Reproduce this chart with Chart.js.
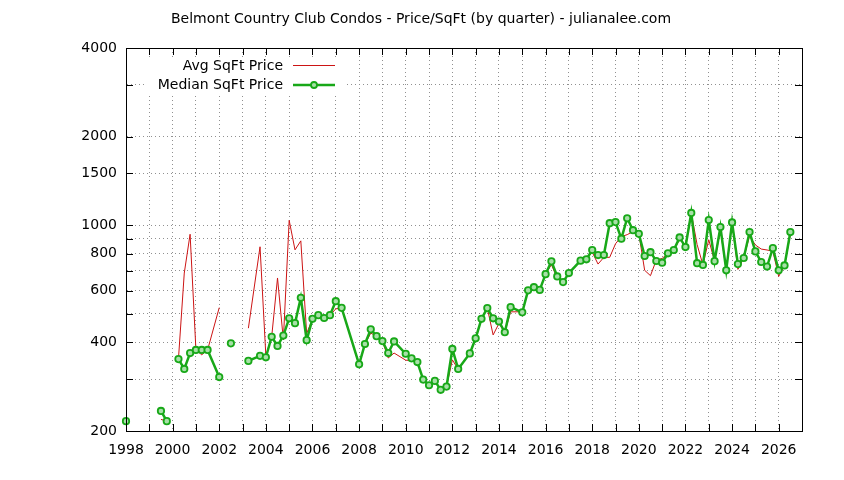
<!DOCTYPE html>
<html>
<head>
<meta charset="utf-8">
<title>Belmont Country Club Condos - Price/SqFt</title>
<script src="https://cdn.jsdelivr.net/npm/chart.js@4.4.1/dist/chart.umd.min.js"></script>
<style>
  html, body { margin: 0; padding: 0; background: #fff; }
  #wrap { width: 844px; height: 480px; }
</style>
</head>
<body>
<div id="wrap"><canvas id="priceChart" width="844" height="480"></canvas></div>
<script>
// quarter (year + (q-1)/4); rows with null values break the lines
const quarters = [
  1998.00, 1998.25,
  1999.50, 1999.75, 2000.00,
  2000.25, 2000.50, 2000.75, 2001.00, 2001.25, 2001.50, 2002.00, 2002.25,
  2002.50, 2002.75,
  2003.25, 2003.75, 2004.00, 2004.25, 2004.50, 2004.75, 2005.00, 2005.25, 2005.50, 2005.75,
  2006.00, 2006.25, 2006.50, 2006.75, 2007.00, 2007.25,
  2008.00, 2008.25, 2008.50, 2008.75, 2009.00, 2009.25, 2009.50,
  2010.00, 2010.25, 2010.50, 2010.75, 2011.00, 2011.25, 2011.50, 2011.75,
  2012.00, 2012.25, 2012.75, 2013.00, 2013.25, 2013.50, 2013.75,
  2014.00, 2014.25, 2014.50, 2015.00, 2015.25, 2015.50, 2015.75,
  2016.00, 2016.25, 2016.50, 2016.75, 2017.00, 2017.50, 2017.75,
  2018.00, 2018.25, 2018.50, 2018.75, 2019.00, 2019.25, 2019.50, 2019.75,
  2020.00, 2020.25, 2020.50, 2020.75, 2021.00, 2021.25, 2021.50, 2021.75,
  2022.00, 2022.25, 2022.50, 2022.75, 2023.00, 2023.25, 2023.50, 2023.75,
  2024.00, 2024.25, 2024.50, 2024.75, 2025.00, 2025.25, 2025.50, 2025.75,
  2026.00, 2026.25, 2026.50
];

const avgPrice = [
  216, null,
  219, 216, null,
  351, 688, 932, 377, 363, 377, 525, null,
  397, null,
  447, 845, 360, 418, 662, 408, 1039, 825, 885, 429,
  480, 494, 483, 494, 520, 523,
  335, 394, 430, 420, 404, 354, 368,
  348, 347, 342, 299, 286, 296, 276, 283,
  349, 324, 367, 413, 481, 523, 424,
  464, 433, 508, 508, 601, 616, 603,
  682, 735, 660, 638, 688, 758, 766,
  810, 738, 778, 778, 865, 915, 929, 952,
  938, 703, 674, 762, 771, 803, 824, 893,
  857, 1101, 860, 733, 893, 755, 966, 702,
  1020, 708, 774, 919, 857, 830, 824, 816,
  670, 730, 930
];

const medianPrice = [
  216, null,
  234, 216, null,
  351, 325, 368, 377, 377, 377, 305, null,
  397, null,
  346, 360, 356, 418, 389, 422, 483, 465, 567, 407,
  481, 495, 484, 495, 552, 524,
  337, 395, 443, 420, 404, 368, 403,
  366, 353, 343, 299, 286, 296, 276, 283,
  380, 325, 367, 413, 481, 523, 483,
  471, 433, 527, 506, 601, 616, 603,
  682, 754, 670, 641, 688, 758, 766,
  824, 792, 792, 1016, 1025, 900, 1056, 962,
  935, 786, 810, 756, 746, 803, 824, 909,
  843, 1101, 743, 733, 1042, 755, 986, 703,
  1022, 738, 774, 948, 815, 750, 724, 836,
  703, 730, 948
];

const yearTicks = [];
for (let y = 1998; y <= 2027; y++) yearTicks.push(y);
const yTickValues = [200, 300, 400, 500, 600, 700, 800, 900, 1000, 1500, 2000, 3000, 4000];
const yTickLabels = [200, 400, 600, 800, 1000, 1500, 2000, 4000];

const titleText = "Belmont Country Club Condos - Price/SqFt (by quarter) - julianalee.com";
const avgLabel = "Avg SqFt Price";
const medianLabel = "Median SqFt Price";

const RED = "#cc1414";
const GREEN = "#18a818";
const FONT = "DejaVu Sans";

Chart.defaults.font.family = FONT;
Chart.defaults.font.size = 14;
Chart.defaults.color = "#000";

// gnuplot-ish frame: inward ticks on all four sides, title, opaque key
const framePlugin = {
  id: "frame",
  afterDraw(chart) {
    const ctx = chart.ctx;
    const a = chart.chartArea;
    const xs = chart.scales.x, ys = chart.scales.y;
    const tick = 7;

    ctx.save();
    ctx.strokeStyle = "#000";
    ctx.lineWidth = 1;
    ctx.beginPath();
    xs.ticks.forEach(t => {
      const px = Math.round(xs.getPixelForValue(t.value)) + 0.5;
      ctx.moveTo(px, a.bottom); ctx.lineTo(px, a.bottom - tick);
      ctx.moveTo(px, a.top); ctx.lineTo(px, a.top + tick);
    });
    ys.ticks.forEach(t => {
      const py = Math.round(ys.getPixelForValue(t.value)) + 0.5;
      ctx.moveTo(a.left, py); ctx.lineTo(a.left + tick, py);
      ctx.moveTo(a.right, py); ctx.lineTo(a.right - tick, py);
    });
    ctx.stroke();
    ctx.strokeRect(Math.round(a.left) + 0.5, Math.round(a.top) + 0.5,
                   Math.round(a.right - a.left), Math.round(a.bottom - a.top));

    // title
    ctx.font = "14px " + FONT;
    ctx.fillStyle = "#000";
    ctx.textAlign = "center";
    ctx.textBaseline = "middle";
    ctx.fillText(titleText, 421, 19);

    // key
    ctx.fillStyle = "#fff";
    ctx.fillRect(146, 57, 198, 38);
    ctx.fillStyle = "#000";
    ctx.font = "14px " + FONT;
    ctx.textAlign = "right";
    ctx.fillText(avgLabel, 283, 66);
    ctx.fillText(medianLabel, 283, 85);

    ctx.strokeStyle = RED;
    ctx.lineWidth = 1;
    ctx.beginPath();
    ctx.moveTo(293, 65.5); ctx.lineTo(335, 65.5);
    ctx.stroke();

    ctx.strokeStyle = GREEN;
    ctx.lineWidth = 2.5;
    ctx.beginPath();
    ctx.moveTo(293, 85); ctx.lineTo(335, 85);
    ctx.stroke();
    ctx.lineWidth = 1.8;
    ctx.fillStyle = "#a8e0a8";
    ctx.beginPath();
    ctx.arc(314, 85, 3, 0, Math.PI * 2);
    ctx.fill();
    ctx.stroke();
    ctx.restore();
  }
};

const ctx = document.getElementById("priceChart").getContext("2d");
const priceChart = new Chart(ctx, {
  type: "line",
  data: {
    datasets: [
      {
        label: medianLabel,
        data: quarters.map((q, i) => ({ x: q, y: medianPrice[i] })),
        borderColor: GREEN,
        borderWidth: 2.5,
        pointRadius: 3.2,
        pointBorderWidth: 1.8,
        pointBackgroundColor: "#a8e0a8",
        pointBorderColor: GREEN,
        tension: 0,
        spanGaps: false,
        clip: 8,
        order: 0
      },
      {
        label: avgLabel,
        data: quarters.map((q, i) => ({ x: q, y: avgPrice[i] })),
        borderColor: RED,
        borderWidth: 1,
        pointRadius: 0,
        tension: 0,
        spanGaps: false,
        order: 1
      }
    ]
  },
  options: {
    responsive: false,
    animation: false,
    devicePixelRatio: 1,
    layout: { padding: { top: 48, right: 42, left: 0, bottom: 0 } },
    plugins: {
      legend: { display: false },
      title: { display: false },
      tooltip: { enabled: false }
    },
    scales: {
      x: {
        type: "linear",
        min: 1998,
        max: 2027,
        afterBuildTicks: scale => { scale.ticks = yearTicks.map(v => ({ value: v })); },
        afterFit: scale => { scale.height = 49; },
        ticks: {
          autoSkip: false,
          maxRotation: 0,
          padding: 11,
          font: { size: 14 },
          callback: v => (v % 2 === 0 && v <= 2026) ? String(v) : ""
        },
        grid: { color: "#909090", lineWidth: 1, drawTicks: false },
        border: { display: true, color: "#000", dash: [1, 3] }
      },
      y: {
        type: "logarithmic",
        min: 200,
        max: 4000,
        afterBuildTicks: scale => { scale.ticks = yTickValues.map(v => ({ value: v })); },
        afterFit: scale => { scale.width = 126; },
        ticks: {
          autoSkip: false,
          padding: 9,
          font: { size: 14 },
          callback: v => yTickLabels.includes(v) ? String(v) : ""
        },
        grid: { color: "#909090", lineWidth: 1, drawTicks: false },
        border: { display: true, color: "#000", dash: [1, 3] }
      }
    }
  },
  plugins: [framePlugin]
});
</script>
</body>
</html>
